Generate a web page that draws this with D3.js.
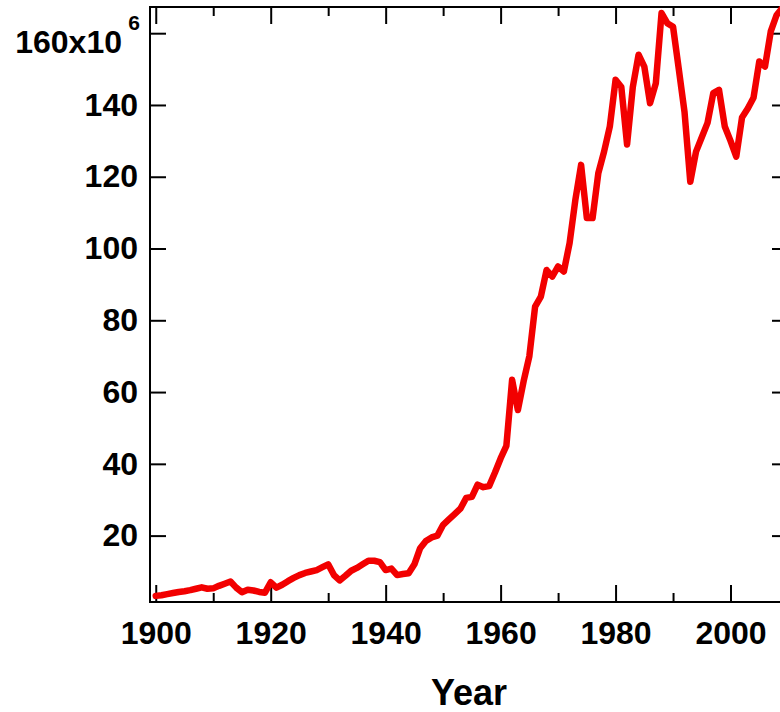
<!DOCTYPE html>
<html>
<head>
<meta charset="utf-8">
<script src="https://cdn.jsdelivr.net/npm/d3@7"></script>
<style>
  body { margin: 0; background: #fff; }
  svg { display: block; font-family: "Liberation Sans", Arial, sans-serif; font-weight: bold; }
</style>
</head>
<body>
<div id="chart"></div>
<script>
// years 1900..2009, values in millions
const years = d3.range(1900, 2010);
const values = [
  3.2, 3.4, 3.7, 4.0, 4.3, 4.5, 4.8, 5.2, 5.6, 5.2,
  5.3, 6.0, 6.6, 7.2, 5.5, 4.2, 4.9, 4.7, 4.3, 4.1,
  7.0, 5.5, 6.3, 7.3, 8.2, 9.0, 9.6, 10.0, 10.4, 11.2,
  12.0, 9.0, 7.5, 8.8, 10.2, 11.0, 12.0, 13.0, 13.0, 12.6,
  10.4, 10.8, 9.0, 9.3, 9.5, 12.0, 16.5, 18.5, 19.5, 20.0,
  23.0, 24.5, 26.0, 27.5, 30.5, 30.8, 34.2, 33.5, 33.8, 37.5,
  41.5, 45.0, 63.4, 55.0, 63.0, 70.0, 83.8, 86.6, 94.0, 92.2,
  95.0, 93.6, 101.5, 113.5, 123.3, 108.5, 108.5, 121.0, 127.0, 134.0,
  147.0, 145.0, 129.0, 145.0, 154.0, 150.7, 140.5, 146.0, 165.6, 162.8,
  161.8, 150.0, 138.0, 118.6, 127.0, 131.0, 135.0, 143.3, 144.2, 134.0,
  130.0, 125.6, 136.5, 139.0, 142.0, 152.1, 150.7, 160.5, 165.0, 167.0
];
const xMajorTicks = [1900, 1920, 1940, 1960, 1980, 2000];
const xMinorTicks = [1910, 1930, 1950, 1970, 1990, 2010];
const yTicks = [20, 40, 60, 80, 100, 120, 140, 160];

const data = years.map((yr, i) => ({ year: yr, value: values[i] }));

const width = 780, height = 712;
const plot = { left: 150, right: 788, top: 7, bottom: 602 };

const x = d3.scaleLinear().domain([1899, 2010]).range([plot.left, plot.right]);
const y = d3.scaleLinear().domain([1.5, 167.3]).range([plot.bottom, plot.top]);

const svg = d3.select('#chart').append('svg')
  .attr('width', width)
  .attr('height', height);

// frame
svg.append('rect')
  .attr('x', plot.left)
  .attr('y', plot.top)
  .attr('width', plot.right - plot.left)
  .attr('height', plot.bottom - plot.top)
  .attr('fill', 'none')
  .attr('stroke', '#000')
  .attr('stroke-width', 2);

const styleAxis = (g) => {
  g.select('.domain').remove();
  g.selectAll('.tick line').attr('stroke', '#000').attr('stroke-width', 2);
  g.selectAll('.tick text').attr('fill', '#000').attr('font-size', 32).attr('font-weight', 'bold');
};

// bottom axis, major ticks with labels
svg.append('g')
  .attr('transform', `translate(0,${plot.bottom})`)
  .call(d3.axisBottom(x).tickValues(xMajorTicks).tickFormat(d3.format('d'))
    .tickSizeInner(-17).tickSizeOuter(0).tickPadding(19))
  .call(styleAxis);

svg.append('g')
  .attr('transform', `translate(0,${plot.bottom})`)
  .call(d3.axisBottom(x).tickValues(xMinorTicks).tickFormat('')
    .tickSizeInner(-9).tickSizeOuter(0))
  .call(styleAxis);

// top mirror ticks
svg.append('g')
  .attr('transform', `translate(0,${plot.top})`)
  .call(d3.axisTop(x).tickValues(xMajorTicks).tickFormat('')
    .tickSizeInner(-17).tickSizeOuter(0))
  .call(styleAxis);

svg.append('g')
  .attr('transform', `translate(0,${plot.top})`)
  .call(d3.axisTop(x).tickValues(xMinorTicks).tickFormat('')
    .tickSizeInner(-9).tickSizeOuter(0))
  .call(styleAxis);

// left axis
const yAxisG = svg.append('g')
  .attr('transform', `translate(${plot.left},0)`)
  .call(d3.axisLeft(y).tickValues(yTicks)
    .tickFormat((d) => (d === 160 ? '160x10' : d))
    .tickSizeInner(-16).tickSizeOuter(0).tickPadding(12))
  .call(styleAxis);

// top label sits a bit lower with a superscript exponent
const topLabel = yAxisG.selectAll('.tick text').filter((d) => d === 160);
topLabel.attr('x', -28).attr('y', 9);
topLabel.append('tspan')
  .attr('x', -10)
  .attr('dy', -23)
  .attr('font-size', 21)
  .text('6');

// right mirror ticks
svg.append('g')
  .attr('transform', `translate(${plot.right},0)`)
  .call(d3.axisRight(y).tickValues(yTicks).tickFormat('')
    .tickSizeInner(-16).tickSizeOuter(0))
  .call(styleAxis);

// x title
svg.append('text')
  .attr('x', (plot.left + plot.right) / 2)
  .attr('y', 705)
  .attr('text-anchor', 'middle')
  .attr('font-size', 36)
  .attr('font-weight', 'bold')
  .attr('fill', '#000')
  .text('Year');

// series
const line = d3.line()
  .x((d) => x(d.year))
  .y((d) => y(d.value));

svg.append('path')
  .datum(data)
  .attr('fill', 'none')
  .attr('stroke', '#f20000')
  .attr('stroke-width', 6.5)
  .attr('stroke-linejoin', 'round')
  .attr('stroke-linecap', 'round')
  .attr('d', line);
</script>
</body>
</html>
